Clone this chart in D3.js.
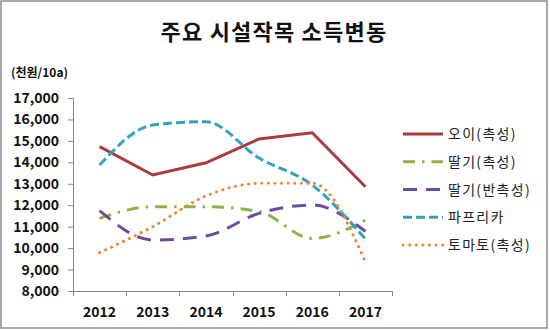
<!DOCTYPE html>
<html><head><meta charset="utf-8">
<script src="https://cdn.jsdelivr.net/npm/d3@7"></script>
<style>
html,body{margin:0;padding:0;background:#fff;}
svg{display:block;}
text{font-family:"Noto Sans CJK KR","Noto Sans",sans-serif;}
</style></head>
<body>
<svg id="c" width="550" height="330"></svg>
<script>
const title = "주요 시설작목 소득변동";
const unitLabel = "(천원/10a)";
const years = ["2012","2013","2014","2015","2016","2017"];
const seriesNames = ["오이(촉성)","딸기(촉성)","딸기(반촉성)","파프리카","토마토(촉성)"];
const cucumber = [14730, 13410, 13980, 15090, 15380, 12860];
const strawberryForced = [11390, 11930, 11930, 11700, 10450, 11310];
const strawberrySemi = [11745, 10375, 10565, 11620, 12010, 10780];
const paprika = [13875, 15740, 15895, 14200, 12940, 10420];
const tomato = [9785, 11000, 12430, 13020, 13030, 9365];
const yTicks = [8000, 9000, 10000, 11000, 12000, 13000, 14000, 15000, 16000, 17000];

const seriesValues = [cucumber, strawberryForced, strawberrySemi, paprika, tomato];
const colors = ["#AD3B38", "#8DB43F", "#6E4B9C", "#31A3BD", "#F08536"];
const dashes = [null, "12,7,2.5,7", "14,9", "9,4", "0.1,6.5"];
const caps = ["butt", "butt", "butt", "butt", "round"];
const curves = [d3.curveLinear, d3.curveMonotoneX, d3.curveMonotoneX, d3.curveMonotoneX, d3.curveMonotoneX];

const svg = d3.select("#c");
svg.append("rect").attr("x",1).attr("y",1).attr("width",546).attr("height",327)
  .attr("fill","#fff").attr("stroke","#8c8c8c").attr("stroke-width",1.5);

svg.append("text").attr("x",274).attr("y",40).attr("text-anchor","middle")
  .attr("font-size",22).attr("font-weight","bold").attr("fill","#111")
  .attr("letter-spacing","1.2px").text(title);

svg.append("text").attr("x",11).attr("y",77)
  .attr("font-size",12).attr("font-weight","bold").attr("fill","#111").text(unitLabel);

const x = d3.scaleBand().domain(years).range([73, 392]);
const y = d3.scaleLinear().domain([8000, 17000]).range([291, 98]);

const g = svg.append("g");
// y axis
const yAxis = d3.axisLeft(y).tickValues(yTicks).tickSize(5).tickPadding(9).tickFormat(d3.format(","));
const ya = g.append("g").attr("transform","translate(73,0)").call(yAxis);
ya.select(".domain").attr("stroke","#888").attr("d","M-5,98.5H0.5V291");
ya.selectAll(".tick line").attr("stroke","#888");
ya.selectAll(".tick text").attr("font-size",14).attr("font-weight","bold").attr("fill","#111")
  .attr("font-family","'Noto Sans CJK KR',sans-serif");

// x axis
const xAxis = d3.axisBottom(x).tickSize(0).tickPadding(0);
const xa = g.append("g").attr("transform","translate(0,291)").call(xAxis);
xa.select(".domain").attr("stroke","#888").attr("d","M73,0.5H392");
xa.selectAll(".tick text").attr("font-size",14).attr("font-weight","bold").attr("fill","#111")
  .attr("dy",null).attr("y",26);
// category boundary ticks
const bounds = years.map(d => x(d)).concat([x(years[years.length-1]) + x.bandwidth()]);
xa.selectAll(".bnd").data(bounds).enter().append("line").attr("class","bnd")
  .attr("x1", d => Math.round(d)+0.5).attr("x2", d => Math.round(d)+0.5)
  .attr("y1",0).attr("y2",5).attr("stroke","#888");

// lines
seriesValues.forEach((vals, i) => {
  const line = d3.line().x((d,j) => x(years[j]) + x.bandwidth()/2).y(d => y(d)).curve(curves[i]);
  svg.append("path").datum(vals).attr("d", line).attr("fill","none")
    .attr("stroke", colors[i]).attr("stroke-width",3)
    .attr("stroke-dasharray", dashes[i]).attr("stroke-linecap", caps[i]);
});

// legend
const legY = d3.scalePoint().domain(seriesNames).range([134, 245]);
seriesNames.forEach((n, i) => {
  const yy = legY(n);
  svg.append("line").attr("x1",403).attr("x2",443).attr("y1",yy).attr("y2",yy)
    .attr("stroke",colors[i]).attr("stroke-width",3)
    .attr("stroke-dasharray",dashes[i]).attr("stroke-linecap",caps[i]);
  svg.append("text").attr("x",448).attr("y",yy).attr("dy","0.36em")
    .attr("font-size",14).attr("letter-spacing","1.3px").attr("fill","#222").text(n);
});
</script>
</body></html>
